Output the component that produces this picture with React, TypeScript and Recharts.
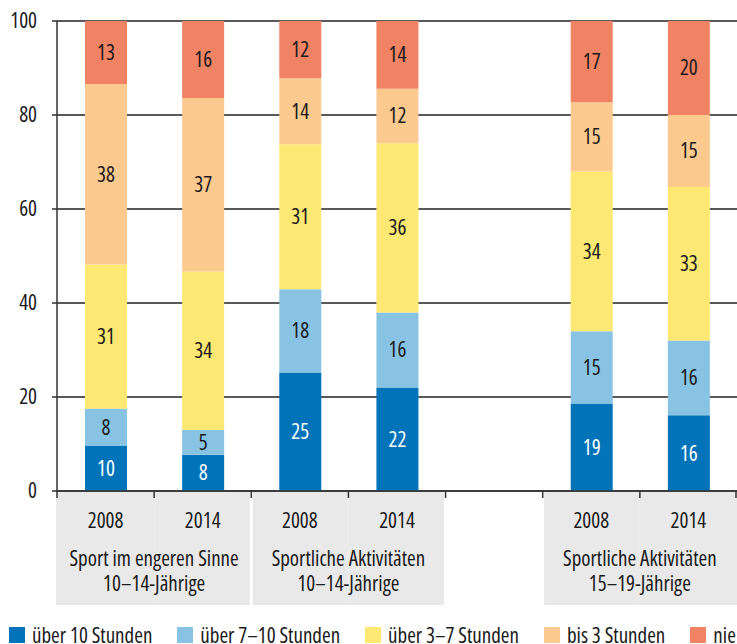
import { BarChart, Bar, XAxis, YAxis, CartesianGrid, LabelList } from 'recharts';

// categories on the x axis (one empty slot separates the last group)
const categories = ['A2008', 'A2014', 'B2008', 'B2014', 'gap', 'C2008', 'C2014'];
const yearLabels = ['2008', '2014', '2008', '2014', '', '2008', '2014'];
const groupOf = [0, 0, 1, 1, -1, 2, 2];
const groupLabels = [
  ['Sport im engeren Sinne', '10\u201314-J\u00e4hrige'],
  ['Sportliche Aktivit\u00e4ten', '10\u201314-J\u00e4hrige'],
  ['Sportliche Aktivit\u00e4ten', '15\u201319-J\u00e4hrige'],
];

// shares in % (labels are rounded)
const over10 = [9.6, 7.7, 25.2, 22.0, null, 18.6, 16.1];
const over7to10 = [7.9, 5.3, 17.7, 16.0, null, 15.4, 15.9];
const over3to7 = [30.7, 33.7, 30.9, 36.0, null, 34.0, 32.7];
const upTo3 = [38.4, 36.9, 14.0, 11.6, null, 14.7, 15.3];
const never = [13.4, 16.4, 12.2, 14.4, null, 17.3, 20.0];

const yTicks = [0, 20, 40, 60, 80, 100];

const series = [
  { key: 'over10', name: '\u00fcber 10 Stunden', color: '#0073b9', text: '#ffffff' },
  { key: 'over7to10', name: '\u00fcber 7\u201310 Stunden', color: '#89c3e4', text: '#1a1a1a' },
  { key: 'over3to7', name: '\u00fcber 3\u20137 Stunden', color: '#fde874', text: '#1a1a1a' },
  { key: 'upTo3', name: 'bis 3 Stunden', color: '#fcca8f', text: '#1a1a1a' },
  { key: 'never', name: 'nie', color: '#f08363', text: '#1a1a1a' },
];

const data = categories.map((c, i) => ({
  cat: c,
  over10: over10[i],
  over7to10: over7to10[i],
  over3to7: over3to7[i],
  upTo3: upTo3[i],
  never: never[i],
}));

const FONT = "'Open Sans', 'DejaVu Sans Condensed', sans-serif";
const FS = 21;
const W = 737;
const H = 644;
const LEFT = 57;
const SLOT = (W - LEFT) / categories.length;

const CategoryTick = (props: any) => {
  const { x, y, payload } = props;
  const i = categories.indexOf(payload.value);
  const g = groupOf[i];
  const left = x - SLOT / 2;
  const right = x + SLOT / 2;
  const n = categories.length;
  const parts: any[] = [];

  // the first tick paints every grey box so later texts stay on top
  if (i === 0) {
    categories.forEach((_, j) => {
      const gj = groupOf[j];
      if (gj < 0) return;
      const l = x + (j - 0.5) * SLOT;
      const r = l + SLOT;
      const first = j === 0 || groupOf[j - 1] !== gj;
      const last = j === n - 1 || groupOf[j + 1] !== gj;
      const x0 = first ? (j === 0 ? l - 1 : l + 1.5) : l;
      const x1 = last ? (j === n - 1 ? r + 1 : r - 1.5) : r;
      parts.push(<rect key={'bg' + j} x={x0} y={y + 1} width={x1 - x0} height={113} fill="#e9e9e9" />);
    });
  }

  if (g >= 0) {
    const first = i === 0 || groupOf[i - 1] !== g;
    parts.push(
      <text key="yr" x={x} y={y + 37} textAnchor="middle" fontSize={FS} fill="#1a1a1a" fontFamily={FONT}>
        {yearLabels[i]}
      </text>
    );
    if (!first) {
      const [l1, l2] = groupLabels[g];
      parts.push(
        <text key="g1" x={left} y={y + 75} textAnchor="middle" fontSize={FS} fill="#1a1a1a" fontFamily={FONT}>
          {l1}
        </text>
      );
      parts.push(
        <text key="g2" x={left} y={y + 100} textAnchor="middle" fontSize={FS} fill="#1a1a1a" fontFamily={FONT}>
          {l2}
        </text>
      );
    }
  }
  parts.push(<line key="t0" x1={left} x2={left} y1={y} y2={y + 7} stroke="#333" strokeWidth={1.5} />);
  if (i === n - 1) {
    parts.push(<line key="t1" x1={right - 1} x2={right - 1} y1={y} y2={y + 7} stroke="#333" strokeWidth={1.5} />);
  }
  return <g>{parts}</g>;
};

const fmt = (v: any) => (v == null ? '' : Math.round(v));

export default function App() {
  return (
    <div
      style={{
        position: 'relative',
        width: W,
        height: H,
        fontFamily: FONT,
        fontStretch: '75%',
        background: '#fff',
      }}
    >
      <style>{'body{margin:0} svg text{font-stretch:75%}'}</style>
      <BarChart width={W} height={H} data={data} margin={{ top: 21, right: 0, bottom: 0, left: 0 }}>
        <CartesianGrid vertical={false} stroke="#222" strokeWidth={1.3} />
        <XAxis
          dataKey="cat"
          height={153}
          interval={0}
          tickLine={false}
          tickSize={0}
          tickMargin={0}
          axisLine={{ stroke: '#333', strokeWidth: 1.5 }}
          tick={<CategoryTick />}
        />
        <YAxis
          width={LEFT}
          domain={[0, 100]}
          ticks={yTicks}
          tickSize={5}
          tickMargin={15}
          axisLine={{ stroke: '#333', strokeWidth: 1.5 }}
          tickLine={{ stroke: '#333', strokeWidth: 1.5 }}
          tick={{ fontSize: FS, fill: '#1a1a1a', fontFamily: FONT }}
        />
        {series.map((s) => (
          <Bar key={s.key} dataKey={s.key} name={s.name} stackId="a" fill={s.color} barSize={42} isAnimationActive={false}>
            <LabelList dataKey={s.key} position="center" formatter={fmt} fill={s.text} fontSize={FS} fontFamily={FONT} />
          </Bar>
        ))}
      </BarChart>
      <div
        style={{
          position: 'absolute',
          left: 9,
          top: 627,
          display: 'flex',
          whiteSpace: 'nowrap',
          fontSize: FS,
          color: '#1a1a1a',
          lineHeight: '16px',
        }}
      >
        {series.map((s) => (
          <div key={s.key} style={{ display: 'flex', alignItems: 'center', marginRight: 25 }}>
            <span style={{ display: 'inline-block', width: 16, height: 16, background: s.color, marginRight: 7 }} />
            <span>{s.name}</span>
          </div>
        ))}
      </div>
    </div>
  );
}
